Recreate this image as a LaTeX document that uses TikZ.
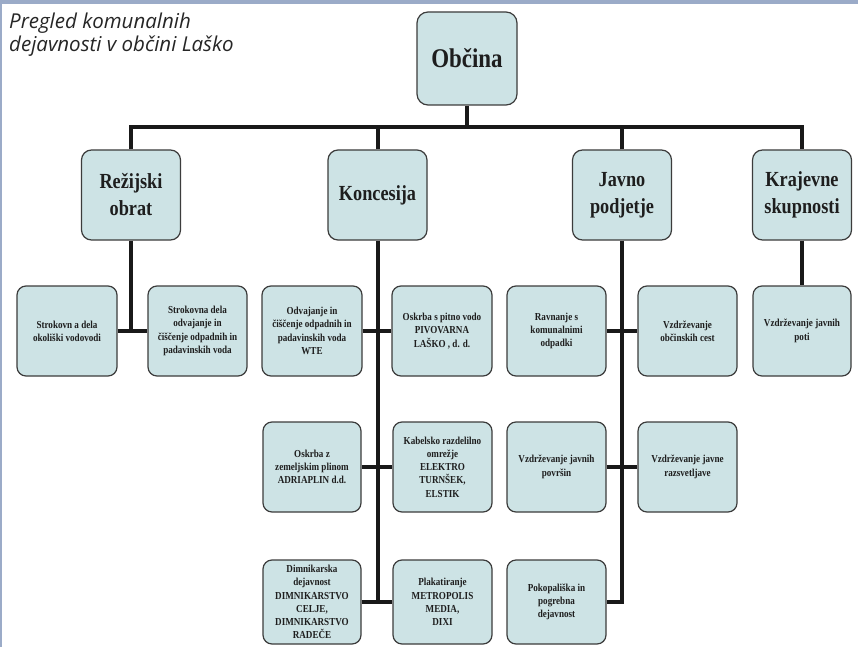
\documentclass[tikz,border=0pt]{standalone}
\usepackage{fontspec}
\setmainfont{Liberation Serif}[FakeStretch=0.85]
\newfontfamily\titlefont{Open Sans}
\definecolor{boxfill}{RGB}{205,227,229}
\definecolor{boxline}{RGB}{60,60,60}
\definecolor{band}{RGB}{155,171,200}
\definecolor{conncol}{RGB}{25,25,25}
\definecolor{txt}{RGB}{30,30,30}
\begin{document}
\begin{tikzpicture}[x=1pt,y=-1pt,
  boxbase/.style={draw=boxline,line width=1.2pt,fill=boxfill,align=center,inner sep=1pt,text=txt},
  topbox/.style={boxbase,rounded corners=11pt,minimum width=100pt,minimum height=93pt,font=\fontsize{27}{30}\selectfont\bfseries},
  midbox/.style={boxbase,rounded corners=10pt,minimum width=99pt,minimum height=90pt,font=\fontsize{21.5}{27}\selectfont\bfseries},
  leafbox/.style={boxbase,rounded corners=9pt,minimum width=99pt,minimum height=90pt,font=\fontsize{10.7}{13.3}\selectfont\bfseries},
  conn/.style={draw=conncol,line width=4pt}]
\useasboundingbox (0,0) rectangle (858,647);
\fill[white] (0,0) rectangle (858,647);
\fill[band] (0,0) rectangle (858,4);
\fill[band] (0,0) rectangle (2.2,647);
\node[anchor=north west,inner sep=0pt,align=left,font=\titlefont\itshape\fontsize{20.5}{23}\selectfont,text=black!85] (title) at (9,12.5) {Pregled komunalnih\\dejavnosti v občini Laško};
\coordinate (bar) at (0,127);
% level 1
\node[topbox] (obc) at (467,58.5) {Občina};
% level 2
\node[midbox] (rez) at (131,195) {Režijski\\obrat};
\node[midbox] (kon) at (377.5,195) {Koncesija};
\node[midbox] (jav) at (622,195) {Javno\\podjetje};
\node[midbox] (kraj) at (802,195) {Krajevne\\skupnosti};
% leaves row 1
\node[leafbox,minimum width=100pt] (l1) at (67,331) {Strokovn a dela\\okoliški vodovodi};
\node[leafbox] (l2) at (197.5,331) {Strokovna dela\\odvajanje in\\čiščenje odpadnih in\\padavinskih voda};
\node[leafbox,minimum width=100pt] (k1) at (312,331) {Odvajanje in\\čiščenje odpadnih in\\padavinskih voda\\WTE};
\node[leafbox,minimum width=100pt] (k2) at (442,331) {Oskrba s pitno vodo\\PIVOVARNA\\LAŠKO , d. d.};
\node[leafbox] (j1) at (556.5,331) {Ravnanje s\\komunalnimi\\odpadki};
\node[leafbox] (j2) at (687.5,331) {Vzdrževanje\\občinskih cest};
\node[leafbox,minimum width=98pt] (kr1) at (802,331) {Vzdrževanje javnih\\poti};
% leaves row 2
\node[leafbox,minimum width=98pt] (k3) at (312,467) {Oskrba z\\zemeljskim plinom\\ADRIAPLIN d.d.};
\node[leafbox] (k4) at (442.5,467) {Kabelsko razdelilno\\omrežje\\ELEKTRO\\TURNŠEK,\\ELSTIK};
\node[leafbox] (j3) at (556.5,467) {Vzdrževanje javnih\\površin};
\node[leafbox] (j4) at (687.5,467) {Vzdrževanje javne\\razsvetljave};
% leaves row 3
\node[leafbox,minimum width=98pt,minimum height=84pt] (k5) at (312,602) {Dimnikarska\\dejavnost\\DIMNIKARSTVO\\CELJE,\\DIMNIKARSTVO\\RADEČE};
\node[leafbox,minimum height=84pt] (k6) at (442.5,602) {Plakatiranje\\METROPOLIS\\MEDIA,\\DIXI};
\node[leafbox,minimum height=84pt] (j5) at (556.5,602) {Pokopališka in\\pogrebna\\dejavnost};
% connectors
\draw[conn] (obc.south) -- (obc.south |- bar);
\draw[conn] (rez.north) -- (rez.north |- bar) -- (kraj.north |- bar) -- (kraj.north);
\draw[conn] (kon.north) -- (kon.north |- bar);
\draw[conn] (jav.north) -- (jav.north |- bar);
\draw[conn] (rez.south) -- (rez.south |- l1.east);
\draw[conn] (l1.east) -- (l2.west);
\draw[conn] (kon.south) -- (kon.south |- k5.east);
\draw[conn] (k1.east) -- (k2.west);
\draw[conn] (k3.east) -- (k4.west);
\draw[conn] (k5.east) -- (k6.west);
\draw[conn] (jav.south) -- (jav.south |- j5.east) -- (j5.east);
\draw[conn] (j1.east) -- (j2.west);
\draw[conn] (j3.east) -- (j4.west);
\draw[conn] (kraj.south) -- (kr1.north);
\end{tikzpicture}
\end{document}
